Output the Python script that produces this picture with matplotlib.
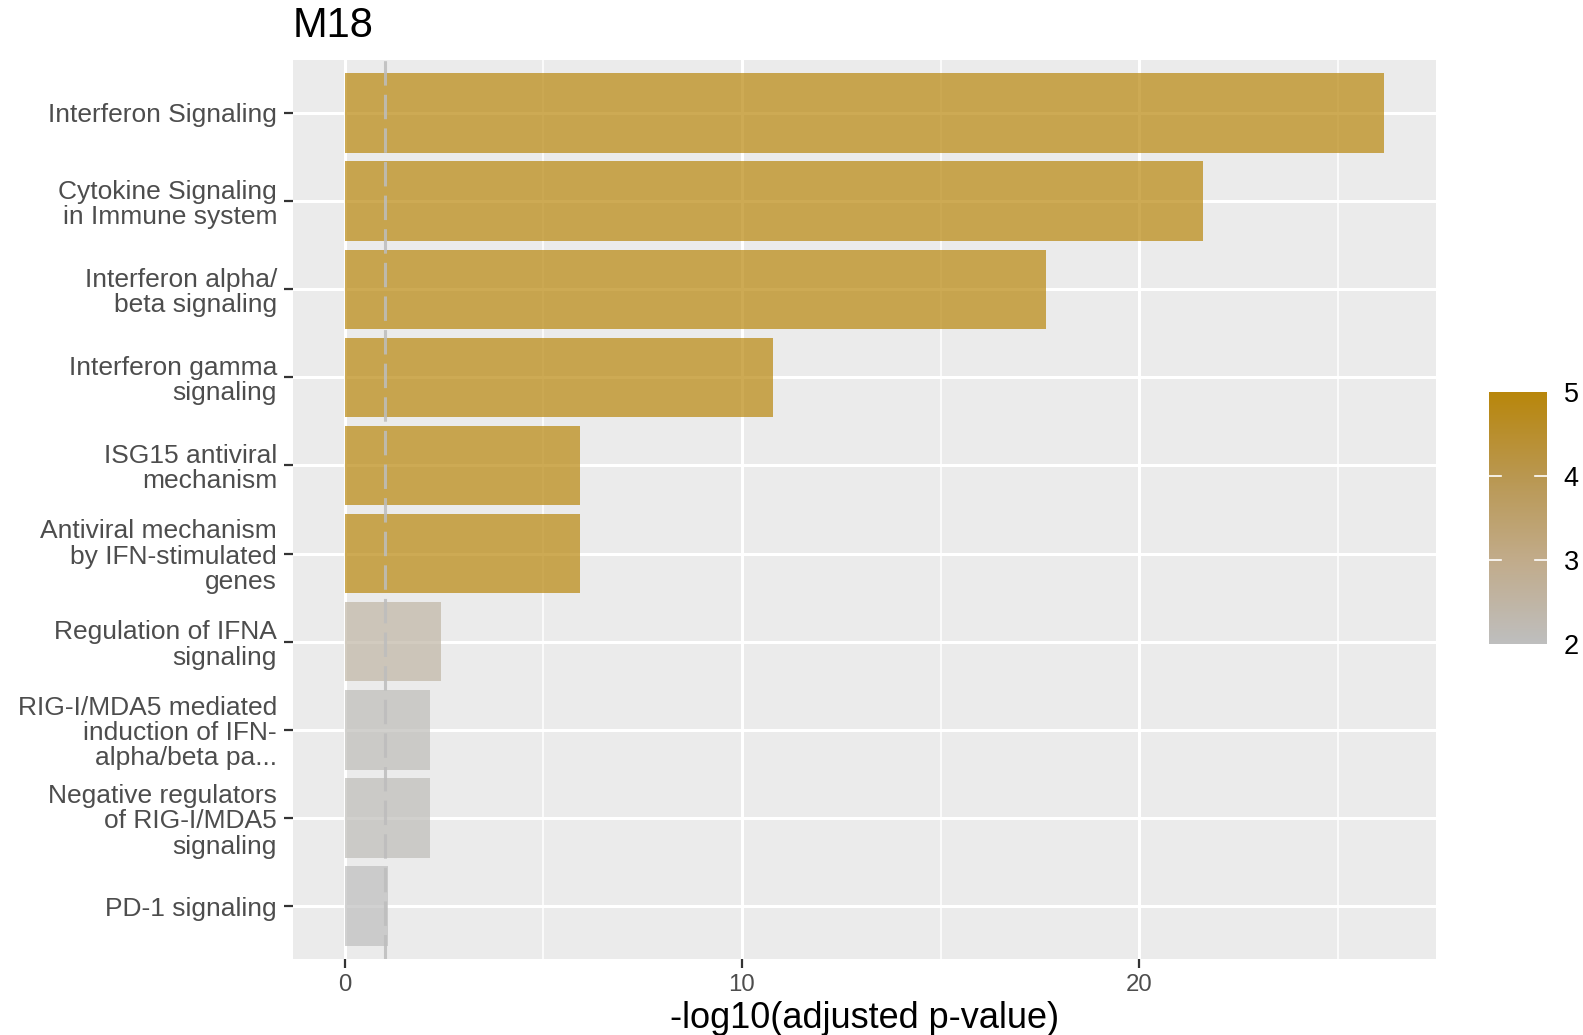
import matplotlib

matplotlib.use("Agg")
import matplotlib.pyplot as plt
import numpy as np
from matplotlib.colors import LinearSegmentedColormap, Normalize
from matplotlib.colorbar import ColorbarBase


TITLE = "M18"
PATHWAYS = [
    "Interferon Signaling",
    "Cytokine Signaling\nin Immune system",
    "Interferon alpha/\nbeta signaling",
    "Interferon gamma\nsignaling",
    "ISG15 antiviral\nmechanism",
    "Antiviral mechanism\nby IFN-stimulated\ngenes",
    "Regulation of IFNA\nsignaling",
    "RIG-I/MDA5 mediated\ninduction of IFN-\nalpha/beta pa...",
    "Negative regulators\nof RIG-I/MDA5\nsignaling",
    "PD-1 signaling",
]
NEG_LOG10_PADJ = [26.17, 21.6, 17.65, 10.77, 5.91, 5.91, 2.42, 2.14, 2.14, 1.08]
FILL_VALUE = [5.0, 5.0, 5.0, 5.0, 5.0, 5.0, 2.5, 2.1, 2.1, 2.0]
CUTOFF = 1.0
X_TICKS = [0, 10, 20]
X_MINOR = [5, 15, 25]
CBAR_TICKS = [2, 3, 4, 5]

GRAD_COLORS = ["#bebebe", "#c1ab8a", "#b99750", "#b8860b"]
PANEL_BG = "#ebebeb"
FONT = ["Liberation Sans", "DejaVu Sans"]


def main() -> None:
    plt.rcParams["font.family"] = FONT

    cmap = LinearSegmentedColormap.from_list("grey_gold", GRAD_COLORS)
    norm = Normalize(vmin=min(FILL_VALUE), vmax=max(FILL_VALUE))

    fig = plt.figure(figsize=(15.83, 10.35), dpi=100)
    ax = fig.add_axes([0.1851, 0.0734, 0.7220, 0.8686])
    ax.set_facecolor(PANEL_BG)

    y = np.arange(len(PATHWAYS))
    ax.barh(y, NEG_LOG10_PADJ, height=0.9, color=cmap(norm(FILL_VALUE)),
            alpha=0.7, linewidth=0, zorder=3)
    ax.axvline(CUTOFF, color="#bdbdbd", linewidth=2.2, dashes=(8, 3),
               alpha=0.85, zorder=4)

    xmax = max(NEG_LOG10_PADJ)
    pad = 0.05 * xmax
    ax.set_xlim(-pad, xmax + pad)
    ax.set_ylim(len(PATHWAYS) - 0.4, -0.6)

    ax.set_xticks(X_TICKS)
    ax.set_xticks(X_MINOR, minor=True)
    ax.set_yticks(y, labels=PATHWAYS)
    ax.grid(which="major", color="white", linewidth=2.2, zorder=0)
    ax.grid(which="minor", axis="x", color="white", linewidth=1.1, zorder=0)
    ax.set_axisbelow(True)
    for spine in ax.spines.values():
        spine.set_visible(False)

    ax.tick_params(axis="both", which="major", length=6.5, width=1.6,
                   color="#333333", labelcolor="#4d4d4d")
    ax.tick_params(axis="x", which="minor", length=0)
    ax.tick_params(axis="x", labelsize=17.3, pad=4)
    ax.tick_params(axis="y", labelsize=19.0, pad=5)
    for label in ax.get_yticklabels():
        label.set_linespacing(1.07)
        label.set_horizontalalignment("right")
        label.set_multialignment("right")

    ax.set_xlabel("-log10(adjusted p-value)", fontsize=26, color="black", labelpad=4)
    fig.text(0.1851, 1 - 37 / 1035, TITLE, fontsize=30, color="black",
             ha="left", va="baseline")

    cax = fig.add_axes([0.9406, 0.3778, 0.0366, 0.2435])
    cb = ColorbarBase(cax, cmap=cmap, norm=norm, orientation="vertical")
    cb.outline.set_visible(False)
    cb.set_ticks(CBAR_TICKS)
    cax.tick_params(length=0, labelsize=19.5, pad=12, labelcolor="black")
    for v in CBAR_TICKS[1:-1]:
        cax.plot([0, 0.2], [v, v], color="white", linewidth=1.2, transform=cax.get_yaxis_transform())
        cax.plot([0.8, 1.0], [v, v], color="white", linewidth=1.2, transform=cax.get_yaxis_transform())

    fig.savefig("out.png", dpi=100)
    plt.close(fig)


if __name__ == "__main__":
    main()
